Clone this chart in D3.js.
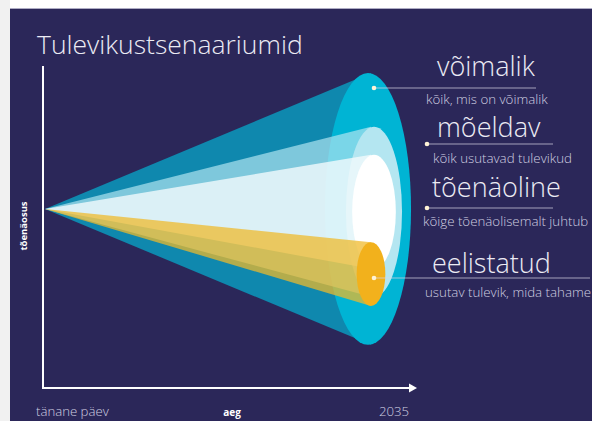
<!DOCTYPE html>
<html lang="et">
<head>
<meta charset="UTF-8">
<title>Tulevikustsenaariumid</title>
<script src="https://d3js.org/d3.v7.min.js"></script>
<style>
    body { margin: 0; background: #ffffff; }
    svg { display: block; }
    text { font-family: 'Open Sans', 'Noto Sans', sans-serif; }
    .big { font-size: 27px; font-weight: 300; fill: #ecebf4; }
    .small { font-size: 13.3px; font-weight: 300; fill: #cfcee0; }
    .axis-lbl { font-size: 13.2px; font-weight: 300; fill: #cfcee0; }
</style>
</head>
<body>
<svg id="chart" width="592" height="421"></svg>
<script>
    // scenario cones: apex at "today", faces at 2035
    const scenarios = ["võimalik", "mõeldav", "tõenäoline", "eelistatud"];
    const descriptions = ["kõik, mis on võimalik", "kõik usutavad tulevikud",
        "kõige tõenäolisemalt juhtub", "usutav tulevik, mida tahame"];
    const centers = [55.6, 54.7, 54.7, 35.4];   // probability level at 2035
    const spreads = [42.2, 26.4, 17.7, 9.9];    // half-width of the cone
    const depths = [13.2, 8.6, 6.7, 4.4];       // apparent face depth (time units)
    const apexValue = 55.6;
    const timeLabels = ["tänane päev", "2035"];

    const bodyColors = ["#0f88ae", "#b4e6f1", "#f3fafc", "#f0b928"];
    const bodyAlpha = [1, 0.68, 0.8, 0.73];
    const faceColors = ["#00b4d4", "#b4e6f1", "#ffffff", "#f2b11c"];

    const svg = d3.select("#chart");

    // frame
    svg.append("rect").attr("x", 0).attr("y", 0).attr("width", 10).attr("height", 421).attr("fill", "#f1f1f1");
    svg.append("rect").attr("x", 10).attr("y", 8).attr("width", 582).attr("height", 1).attr("fill", "#aeacc4");
    svg.append("rect").attr("x", 10).attr("y", 9).attr("width", 582).attr("height", 412).attr("fill", "#2b2759");

    const x = d3.scaleLinear().domain([0, 100]).range([45, 371]);
    const y = d3.scaleLinear().domain([0, 100]).range([388, 66]);
    const pxPerX = x(1) - x(0);
    const pxPerY = y(0) - y(1);

    // title
    svg.append("text").attr("class", "big").attr("x", 37).attr("y", 54)
        .style("font-size", "26.5px").text("Tulevikustsenaariumid");

    // axes
    svg.append("line").attr("x1", 43).attr("x2", 43).attr("y1", y(100)).attr("y2", y(0) + 1)
        .attr("stroke", "#ffffff").attr("stroke-width", 2);
    svg.append("line").attr("x1", 42).attr("x2", 409).attr("y1", y(0)).attr("y2", y(0))
        .attr("stroke", "#ffffff").attr("stroke-width", 2);
    svg.append("path").attr("d", `M409,${y(0) - 4.5}L417,${y(0)}L409,${y(0) + 4.5}Z`).attr("fill", "#ffffff");

    svg.append("text").attr("transform", "translate(27,226) rotate(-90)")
        .attr("text-anchor", "middle").style("font-size", "9.5px").style("font-weight", 700)
        .attr("fill", "#ffffff").text("tõenäosus");
    svg.append("text").attr("x", 232).attr("y", 416).attr("text-anchor", "middle")
        .style("font-size", "10px").style("font-weight", 700).attr("fill", "#ffffff").text("aeg");
    svg.append("text").attr("class", "axis-lbl").attr("x", 36).attr("y", 416).text(timeLabels[0]);
    svg.append("text").attr("class", "axis-lbl").attr("x", 409).attr("y", 416)
        .attr("text-anchor", "end").text(timeLabels[1]);

    // cones
    const cones = svg.append("g");
    const apex = [x(0), y(apexValue)];
    scenarios.forEach(function (s, i) {
        const cx = x(100), cy = y(centers[i]);
        const ry = spreads[i] * pxPerY, rx = depths[i] * pxPerX;
        cones.append("path")
            .attr("d", `M${apex[0]},${apex[1]}L${cx},${cy - ry}L${cx},${cy + ry}Z`)
            .attr("fill", bodyColors[i]).attr("fill-opacity", bodyAlpha[i]);
        cones.append("ellipse").attr("cx", cx + (i === 0 ? -3 : i === 3 ? 0 : 3)).attr("cy", cy)
            .attr("rx", rx).attr("ry", ry).attr("fill", faceColors[i]);
    });

    // labels
    const labelRows = [
        {dot: [374, 88], lineEnd: 536, titleX: 437, titleY: 76, subX: 426, subY: 104},
        {dot: [427, 144], lineEnd: 553, titleX: 437, titleY: 137, subX: 433, subY: 163},
        {dot: [427, 208], lineEnd: 553, titleX: 432, titleY: 197, subX: 423, subY: 226},
        {dot: [374, 278], lineEnd: 590, titleX: 432, titleY: 273, subX: 425, subY: 297}
    ];
    const lbl = svg.append("g");
    scenarios.forEach(function (s, i) {
        const r = labelRows[i];
        lbl.append("line").attr("x1", r.dot[0]).attr("x2", r.lineEnd)
            .attr("y1", r.dot[1]).attr("y2", r.dot[1])
            .attr("stroke", "#d8d6e6").attr("stroke-opacity", 0.7).attr("stroke-width", 1);
        lbl.append("circle").attr("cx", r.dot[0]).attr("cy", r.dot[1]).attr("r", 2.3)
            .attr("fill", "#fff3d6");
        lbl.append("text").attr("class", "big").attr("x", r.titleX).attr("y", r.titleY).text(s);
        lbl.append("text").attr("class", "small").attr("x", r.subX).attr("y", r.subY).text(descriptions[i]);
    });
</script>
</body>
</html>
